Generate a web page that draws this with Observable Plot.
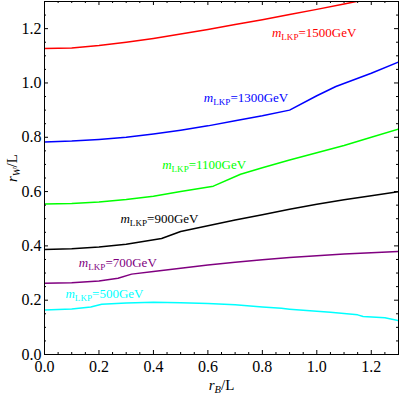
<!DOCTYPE html>
<html>
<head>
<meta charset="utf-8">
<script src="https://cdn.jsdelivr.net/npm/d3@7"></script>
<script src="https://cdn.jsdelivr.net/npm/@observablehq/plot@0.6"></script>
<style>
  body { margin: 0; background: #fff; }
  #chart svg { font-family: "Liberation Serif", "Times New Roman", serif; display: block; }
</style>
</head>
<body>
<div id="chart"></div>
<script>
// ---- data ----
const rB1500 = [0, 0.1, 0.2, 0.3, 0.4, 0.5, 0.6, 0.7, 0.8, 0.9, 1.0, 1.1, 1.2, 1.3];
const rW1500 = [1.127, 1.129, 1.138, 1.150, 1.164, 1.180, 1.197, 1.215, 1.233, 1.252, 1.271, 1.291, 1.311, 1.332];

const rB1300 = [0, 0.1, 0.2, 0.3, 0.4, 0.5, 0.6, 0.7, 0.8, 0.9, 1.0, 1.07, 1.2, 1.3];
const rW1300 = [0.783, 0.786, 0.792, 0.800, 0.812, 0.826, 0.842, 0.861, 0.879, 0.900, 0.953, 0.987, 1.036, 1.077];

const rB1100 = [0, 0.1, 0.2, 0.3, 0.4, 0.5, 0.62, 0.72, 0.8, 0.9, 1.0, 1.1, 1.2, 1.3];
const rW1100 = [0.554, 0.556, 0.562, 0.571, 0.583, 0.600, 0.620, 0.664, 0.688, 0.716, 0.743, 0.770, 0.800, 0.830];

const rB900 = [0, 0.1, 0.2, 0.3, 0.43, 0.5, 0.6, 0.7, 0.8, 0.9, 1.0, 1.1, 1.2, 1.3];
const rW900 = [0.387, 0.389, 0.396, 0.406, 0.427, 0.453, 0.474, 0.495, 0.515, 0.535, 0.553, 0.570, 0.585, 0.600];

const rB700 = [0, 0.1, 0.2, 0.27, 0.32, 0.4, 0.5, 0.6, 0.7, 0.8, 0.9, 1.0, 1.1, 1.2, 1.3];
const rW700 = [0.262, 0.264, 0.271, 0.281, 0.296, 0.306, 0.318, 0.330, 0.340, 0.349, 0.357, 0.364, 0.370, 0.375, 0.379];

const rB500 = [0, 0.1, 0.17, 0.21, 0.3, 0.4, 0.5, 0.6, 0.7, 0.8, 0.87, 0.9, 1.0, 1.05, 1.15, 1.17, 1.25, 1.3];
const rW500 = [0.164, 0.168, 0.175, 0.185, 0.190, 0.192, 0.191, 0.188, 0.183, 0.175, 0.170, 0.167, 0.159, 0.156, 0.146, 0.140, 0.135, 0.125];

const masses = [1500, 1300, 1100, 900, 700, 500];
const seriesColors = ["#ff0000", "#0000ff", "#00ff00", "#000000", "#800080", "#00ffff"];
const seriesX = [rB1500, rB1300, rB1100, rB900, rB700, rB500];
const seriesY = [rW1500, rW1300, rW1100, rW900, rW700, rW500];

// label anchor points (left end, vertical middle) in data units
const labelX = [0.835, 0.585, 0.432, 0.279, 0.126, 0.077];
const labelY = [1.183, 0.947, 0.699, 0.498, 0.336, 0.222];

const xTicks = [0, 0.2, 0.4, 0.6, 0.8, 1.0, 1.2];
const yTicks = [0, 0.2, 0.4, 0.6, 0.8, 1.0, 1.2];
const xLabel = "r_{B}/L";
const yLabel = "r_{W}/L";

// ---- layout ----
const W = 399, H = 396, mL = 44, mR = 1, mT = 1, mB = 42;
const innerW = W - mL - mR, innerH = H - mT - mB;
const majorLen = 4, minorLen = 2;
const minorX = d3.range(0, 1.3001, 0.05).filter(v => !xTicks.some(t => Math.abs(t - v) < 1e-6));
const minorY = d3.range(0, 1.3001, 0.05).filter(v => !yTicks.some(t => Math.abs(t - v) < 1e-6));

const lineMarks = masses.map((m, i) =>
  Plot.line(seriesX[i].map((x, j) => ({rB: x, rW: seriesY[i][j]})), {
    x: "rB", y: "rW", stroke: seriesColors[i], strokeWidth: 1.5, clip: true
  })
);

const labels = masses.map((m, i) => ({
  text: `m_{LKP}=${m}GeV`, x: labelX[i], y: labelY[i], color: seriesColors[i]
}));

const tickStyle = {stroke: "black", strokeWidth: 1};

const plot = Plot.plot({
  width: W, height: H,
  marginLeft: mL, marginRight: mR, marginTop: mT, marginBottom: mB,
  style: {fontFamily: "'Liberation Serif', 'Times New Roman', serif", fontSize: "16px", background: "white"},
  x: {domain: [0, 1.3]},
  y: {domain: [0, 1.3]},
  color: {type: "identity"},
  marks: [
    ...lineMarks,
    Plot.text(labels, {x: "x", y: "y", text: "text", fill: "color", textAnchor: "start", fontSize: 13}),
    // inward ticks on all four sides
    Plot.tickX(xTicks, {x: d => d, insetTop: innerH - majorLen, ...tickStyle}),
    Plot.tickX(xTicks, {x: d => d, insetBottom: innerH - majorLen, ...tickStyle}),
    Plot.tickX(minorX, {x: d => d, insetTop: innerH - minorLen, ...tickStyle}),
    Plot.tickX(minorX, {x: d => d, insetBottom: innerH - minorLen, ...tickStyle}),
    Plot.tickY(yTicks, {y: d => d, insetRight: innerW - majorLen, ...tickStyle}),
    Plot.tickY(yTicks, {y: d => d, insetLeft: innerW - majorLen, ...tickStyle}),
    Plot.tickY(minorY, {y: d => d, insetRight: innerW - minorLen, ...tickStyle}),
    Plot.tickY(minorY, {y: d => d, insetLeft: innerW - minorLen, ...tickStyle}),
    Plot.axisX({ticks: xTicks, tickSize: 0, tickPadding: 6, tickFormat: d3.format(".1f"), label: null, fontSize: 16}),
    Plot.axisY({ticks: yTicks, tickSize: 0, tickPadding: 3, tickFormat: d3.format(".1f"), label: null, fontSize: 16}),
    Plot.frame({stroke: "black", strokeWidth: 1}),
    Plot.text([xLabel], {frameAnchor: "bottom", text: d => d, dy: 35, fontSize: 15}),
    Plot.text([yLabel], {frameAnchor: "left", text: d => d, rotate: -90, dx: -32, dy: 4, fontSize: 15})
  ]
});

// turn "a_{sub}rest" strings into real text with italic variable and subscript
const NS = "http://www.w3.org/2000/svg";
plot.querySelectorAll("text").forEach(t => {
  const s = t.textContent;
  const m = s.match(/^(.)_\{(.+?)\}(.*)$/);
  if (!m) return;
  while (t.firstChild) t.removeChild(t.firstChild);
  const a = document.createElementNS(NS, "tspan");
  a.textContent = m[1];
  a.setAttribute("font-style", "italic");
  const b = document.createElementNS(NS, "tspan");
  b.textContent = m[2];
  b.setAttribute("font-size", "0.7em");
  b.setAttribute("dy", "3");
  if (m[2].length === 1) b.setAttribute("font-style", "italic");
  const c = document.createElementNS(NS, "tspan");
  c.textContent = m[3];
  c.setAttribute("dy", "-3");
  t.append(a, b, c);
});

document.getElementById("chart").appendChild(plot);
</script>
</body>
</html>
